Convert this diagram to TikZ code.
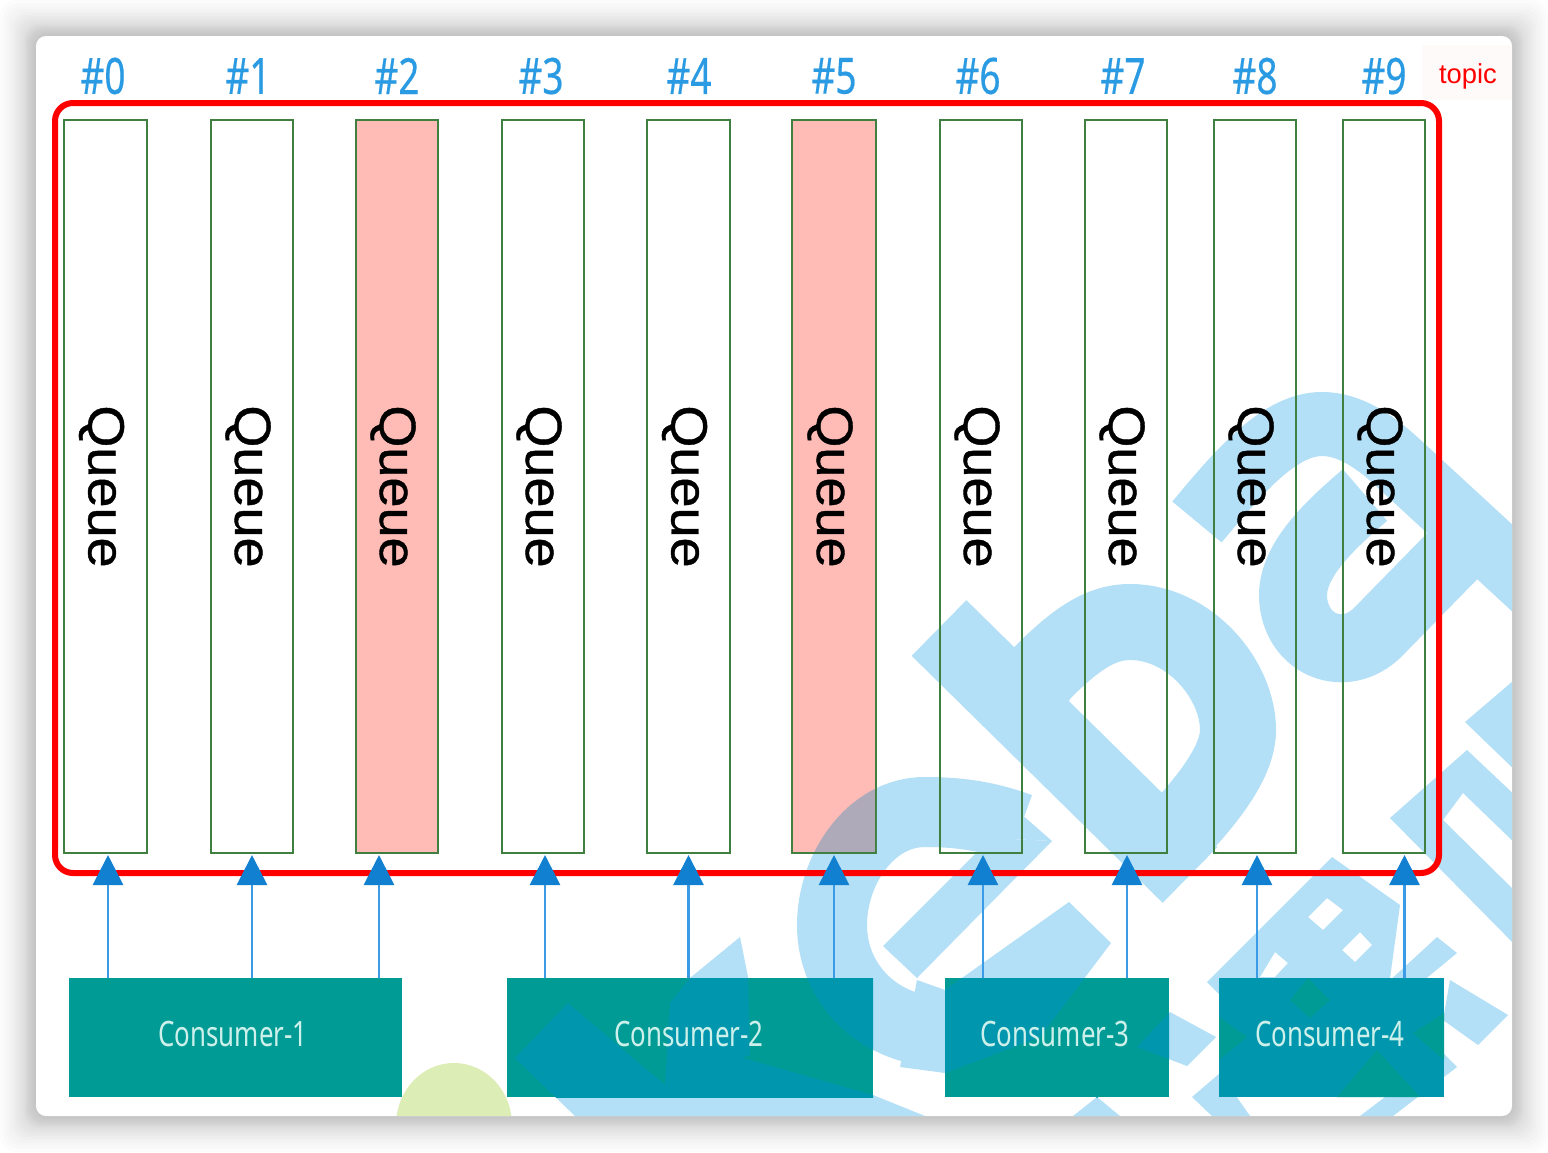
\documentclass[tikz,border=0pt]{standalone}
\usepackage{xcolor}
\usepackage{fontspec}
\usetikzlibrary{positioning,calc,arrows.meta}
\setmainfont{Liberation Sans}
\newfontfamily\narrowfont[FakeStretch=0.74,FakeBold=0.4]{Noto Sans}
\newfontfamily\consumerfont[FakeStretch=0.74]{Noto Sans}
\newfontfamily\queuefont[FakeStretch=1.06,FakeBold=0.8]{Liberation Sans}

\definecolor{wmblue}{HTML}{B3E0F7}
\definecolor{wmteal}{HTML}{0096AE}
\definecolor{wmpink}{HTML}{AFAABA}
\definecolor{teal0}{HTML}{009B95}
\definecolor{pink0}{HTML}{FFBCB7}
\definecolor{queueline}{HTML}{3F7F3F}
\definecolor{labelblue}{HTML}{2A9BE3}
\definecolor{flowline}{HTML}{3C9BE5}
\definecolor{flowtip}{HTML}{1280D0}
\definecolor{domegreen}{HTML}{DCEDB5}
\definecolor{consumertext}{HTML}{CDF0EA}

\tikzset{
    queuebox/.style={draw=queueline, line width=1.2pt, inner sep=0pt, outer sep=0pt, font=\queuefont\fontsize{25.5}{26}\selectfont},
    consumerbox/.style={fill=teal0, inner sep=0pt, outer sep=0pt},
    consumertxt/.style={text=consumertext, font=\consumerfont\fontsize{17.5}{18}\selectfont},
    indexlabel/.style={text=labelblue, font=\narrowfont\fontsize{25}{25}\selectfont},
    flow/.style={draw=flowline, line width=1.4pt, -{Triangle[length=15pt,width=15pt,color=flowtip]}}
}

% the background letters, in one colour
\newcommand{\logoshapes}[1]{%
    % a
    \draw[#1, line width=32pt] (1197,522) .. controls (1240,470) and (1280,424) .. (1322,424) .. controls (1350,424) and (1375,442) .. (1395,460) -- (1560,612);
    \draw[#1, line width=34pt] (1470,538) -- (1378,632) .. controls (1345,665) and (1295,645) .. (1293,597) .. controls (1292,560) and (1330,525) .. (1365,495);
    % b
    \draw[#1, line width=39pt] (939,628) -- (1190,875);
    \draw[#1, line width=38pt] (1030,690) -- (1042,673) .. controls (1075,640) and (1100,622) .. (1130,622) .. controls (1190,622) and (1238,680) .. (1238,730) .. controls (1238,770) and (1190,820) .. (1150,860);
    % e
    \draw[#1, line width=35pt] (1020,828) .. controls (985,815) and (955,812) .. (925,812) .. controls (870,812) and (832,870) .. (832,925) .. controls (832,985) and (880,1032) .. (945,1032);
    \fill[#1] (991,838) -- (1052,841) -- (917,978) -- (883,946) -- cycle;
    \fill[#1] (991,838) -- (1052,841) -- (996,792) -- (960,790) -- cycle;
    \fill[#1] (917,980) -- (945,990) -- (1069,902) -- (1111,943) -- (1040,1037) -- (945,1073) -- (900,1067) -- cycle;
    \fill[#1] (1170,1012) -- (1216,1037) -- (1187,1066) -- (1137,1047) -- cycle;
    % bottom left
    \fill[#1] (568,1003) -- (515,1058) -- (575,1116) -- (925,1116) -- (873,1095) -- (740,1057) -- (665,1085) -- cycle;
    \fill[#1] (740,937) -- (690,978) -- (670,1003) -- (665,1085) -- (750,1055) -- (748,977) -- cycle;
    \fill[#1] (1073,1116) -- (1097,1097) -- (1120,1116) -- cycle;
    % right hand sign
    \fill[#1, even odd rule] (1332,857) -- (1207,982) -- (1240,1015) -- (1385,1015) -- (1400,905) -- cycle
        (1327,898) -- (1343,910) -- (1323,930) -- (1308,917) -- cycle
        (1360,932) -- (1372,945) -- (1355,962) -- (1342,950) -- cycle
        (1275,952) -- (1288,963) -- (1275,977) -- (1260,977) -- cycle;
    \fill[#1] (1437,937) -- (1457,953) -- (1400,1000) -- (1385,985) -- cycle;
    \fill[#1] (1450,980) -- (1508,1015) -- (1478,1045) -- (1443,1020) -- cycle;
    \fill[#1] (1443,1053) -- (1457,1067) -- (1393,1116) -- (1360,1116) -- cycle;
    \fill[#1] (1192,1097) -- (1220,1073) -- (1250,1116) -- (1212,1116) -- cycle;
    \fill[#1] (1467,750) -- (1390,818) -- (1520,950) -- (1520,896) -- (1443,820) -- (1463,793) -- (1520,848) -- (1520,800) -- cycle;
    \fill[#1] (1465,722) -- (1520,675) -- (1520,775) -- cycle;
}

\begin{document}
\begin{tikzpicture}[x=0.5pt,y=-0.5pt]
    \useasboundingbox (0,0) rectangle (1548,1152);

    % Card
    \foreach \s in {36,33,30,27,24,22,20,18,16,14,12,11,10,9,8,7,6,5,4,3,2,1} {
        \fill[black, opacity=0.011, rounded corners=8pt] (36-\s,36-\s) rectangle (1512+\s,1116+\s);
    }
    \fill[white, rounded corners=5pt] (36,36) rectangle (1512,1116);

    % Watermark
    \begin{scope}
        \clip[rounded corners=5pt] (36,36) rectangle (1512,1116);
        \fill[domegreen] (454,1125) ellipse (58 and 62);
        \logoshapes{wmblue}
        \fill[white!98!red] (1422,45) rectangle (1512,100);
    \end{scope}
    \node[text=red, font=\fontsize{13.7}{14}\selectfont] (topiclabel) at (1468,76.5) {topic};

    % Queues
    \foreach \n/\xl/\xr/\lx/\fc in {0/64/147/103/none, 1/211/293/248/none, 2/356/438/397/pink0, 3/502/584/541/none, 4/647/730/689/none, 5/792/876/834/pink0, 6/940/1022/978/none, 7/1085/1167/1123/none, 8/1214/1296/1255/none, 9/1343/1425/1384/none} {
        \node[queuebox, fill=\fc, minimum width={(\xr-\xl)*0.5pt}, minimum height=366.5pt] (q\n) at ({(\xl+\xr)/2},486.5) {\hspace*{-4pt}\rotatebox{-90}{Queue}};
        \node[indexlabel] (idx\n) at (\lx,76) {\#\n};
    }
    \begin{scope}
        \clip (q5.south west) rectangle (q5.north east);
        \logoshapes{wmpink}
        \draw[queueline, line width=1.2pt] (q5.south west) rectangle (q5.north east);
    \end{scope}

    % Consumers
    \foreach \n/\xl/\xr in {1/68.5/402, 2/507/873, 3/945/1169, 4/1219/1444} {
        \node[consumerbox, minimum width={(\xr-\xl)*0.5pt}, minimum height=59.5pt] (c\n) at ({(\xl+\xr)/2},1037.5) {};
    }
    \foreach \n in {1,2,3} {
        \begin{scope}
            \clip (c\n.south west) rectangle (c\n.north east);
            \logoshapes{wmteal}
        \end{scope}
    }
    \fill[wmteal] (c4.south west) rectangle (c4.north east);
    \fill[teal0] (1308,978) -- (1290,1000) -- (1310,1018) -- (1330,1000) -- cycle;
    \fill[teal0] (1219,1017) -- (1247,1037) -- (1219,1060) -- cycle;
    \fill[teal0] (1444,1013) -- (1413,1033) -- (1444,1060) -- cycle;
    \fill[teal0] (1377,1050) -- (1337,1097) -- (1420,1097) -- cycle;

    \node[consumertxt] (t1) at (233,1034) {Consumer-1};
    \node[consumertxt] (t2) at (689,1034) {Consumer-2};
    \node[consumertxt] (t3) at (1055,1034) {Consumer-3};
    \node[consumertxt] (t4) at (1330,1034) {Consumer-4};

    % Topic frame
    \node[draw=red, line width=3pt, rounded corners=9pt, minimum width=692pt, minimum height=385pt, inner sep=0pt] (topic) at (747,488) {};

    % Arrows
    \foreach \q/\c/\dx in {0/1/2.5, 1/1/0, 2/1/-18, 3/2/2, 4/2/0, 5/2/0, 6/3/2, 7/3/1, 8/4/2, 9/4/20.5} {
        \coordinate (tip\q) at ([xshift=\dx*0.5pt]q\q.south);
        \draw[flow] (tip\q |- c\c.north) -- ([yshift=-1pt]tip\q);
    }
\end{tikzpicture}
\end{document}
